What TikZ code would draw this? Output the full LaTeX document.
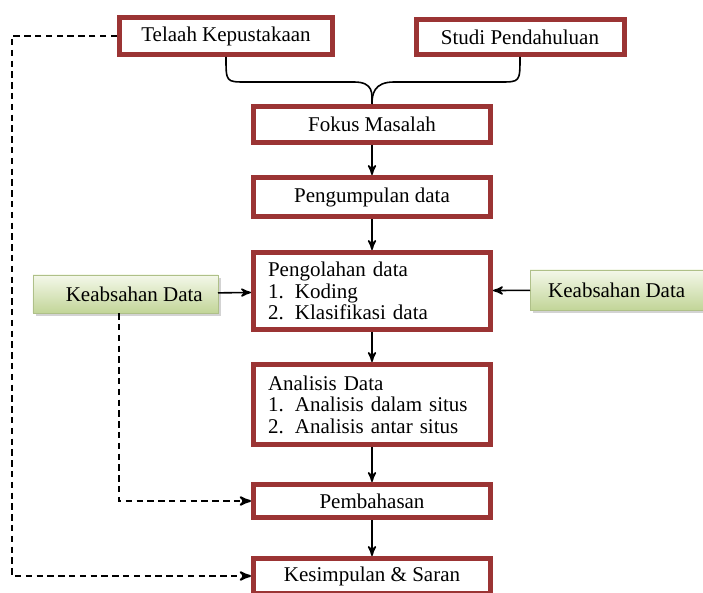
\documentclass[tikz,border=0pt]{standalone}
\usepackage{fontspec}
\setmainfont{Liberation Serif}
\usetikzlibrary{arrows,positioning,shadows}
\definecolor{merah}{RGB}{155,52,52}
\definecolor{hijaumuda}{RGB}{244,248,234}
\definecolor{hijautua}{RGB}{194,213,152}
\tikzset{
  %Define standard arrow tip
  >=stealth',
  %Define style for red boxes
  kotak/.style={
    rectangle,
    draw=merah, line width=2.5pt,
    fill=white,
    minimum width=118.5pt,
    minimum height=18pt,
    font=\fontsize{10.5}{10.8}\selectfont,
    text centered},
  %Define style for green boxes
  hijau/.style={
    rectangle,
    draw=hijautua!90!black, very thin,
    top color=hijaumuda, bottom color=hijautua,
    drop shadow={opacity=0.35,shadow xshift=1.5pt,shadow yshift=-1.5pt},
    minimum width=92.5pt,
    minimum height=19pt,
    font=\fontsize{10.5}{10.8}\selectfont},
  % Define arrow style
  pil/.style={
    ->,
    thick},
  putus/.style={
    ->,
    line width=1pt,
    dash pattern=on 3.2pt off 2.2pt}
}

\begin{document}
\begin{tikzpicture}[x=0.5pt,y=-0.5pt,node distance=15pt]
  \useasboundingbox (0,0) rectangle (703,593);
  \node[kotak,minimum width=106.5pt,minimum height=18.5pt] (telaah) at (226,36) {Telaah Kepustakaan};
  \node[kotak,minimum width=104pt,minimum height=17.5pt] (studi) at (520,37) {Studi Pendahuluan};
  \node[kotak] (fokus) at (372,124.5) {Fokus Masalah};
  \node[kotak,minimum height=19.5pt,below=of fokus] (kumpul) {Pengumpulan data};
  \node[kotak,minimum height=38.5pt,text width=104pt,inner xsep=7.25pt,align=left,below=15.5pt of kumpul] (olah)
    {Pengolahan data\\\makebox[13.5pt][l]{1.}Koding\\\makebox[13.5pt][l]{2.}Klasifikasi data};
  \node[kotak,minimum height=40pt,text width=104pt,inner xsep=7.25pt,align=left,below=of olah] (analisis)
    {Analisis Data\\\makebox[13.5pt][l]{1.}Analisis dalam situs\\\makebox[13.5pt][l]{2.}Analisis antar situs};
  \node[kotak,minimum height=16.5pt,below=17.5pt of analisis] (bahas) {Pembahasan};
  \node[kotak,minimum height=17.5pt,below=18pt of bahas] (simpul) {Kesimpulan \& Saran};
  \node[hijau,left=16.5pt of olah,yshift=-1.5pt] (sahkiri) {\hspace{9pt}Keabsahan Data};
  \node[hijau,minimum width=86.5pt,minimum height=20pt,right=18.5pt of olah,yshift=0.5pt] (sahkanan) {Keabsahan Data};
  \coordinate (sudut) at (12,36);

  % brace from the two sources into the focus
  \draw[thick] (telaah.south) .. controls +(0,25) and +(-20,0) .. ++(20,25) -- (354,82)
    .. controls +(20,0) and +(0,-10) .. (fokus.north);
  \draw[thick] (studi.south) .. controls +(0,25) and +(20,0) .. ++(-20,25) -- (394,82)
    .. controls +(-20,0) and +(0,-10) .. (fokus.north);

  \path[pil]
    (fokus) edge (kumpul)
    (kumpul) edge (olah)
    (olah) edge (analisis)
    (analisis) edge (bahas)
    (bahas) edge (simpul)
    (sahkiri) edge (olah)
    (sahkanan) edge (olah);

  \draw[putus] (telaah.west) -- (sudut) |- (simpul.west);
  \draw[putus] ([xshift=-3pt]sahkiri.south) |- (bahas.west);
\end{tikzpicture}
\end{document}
